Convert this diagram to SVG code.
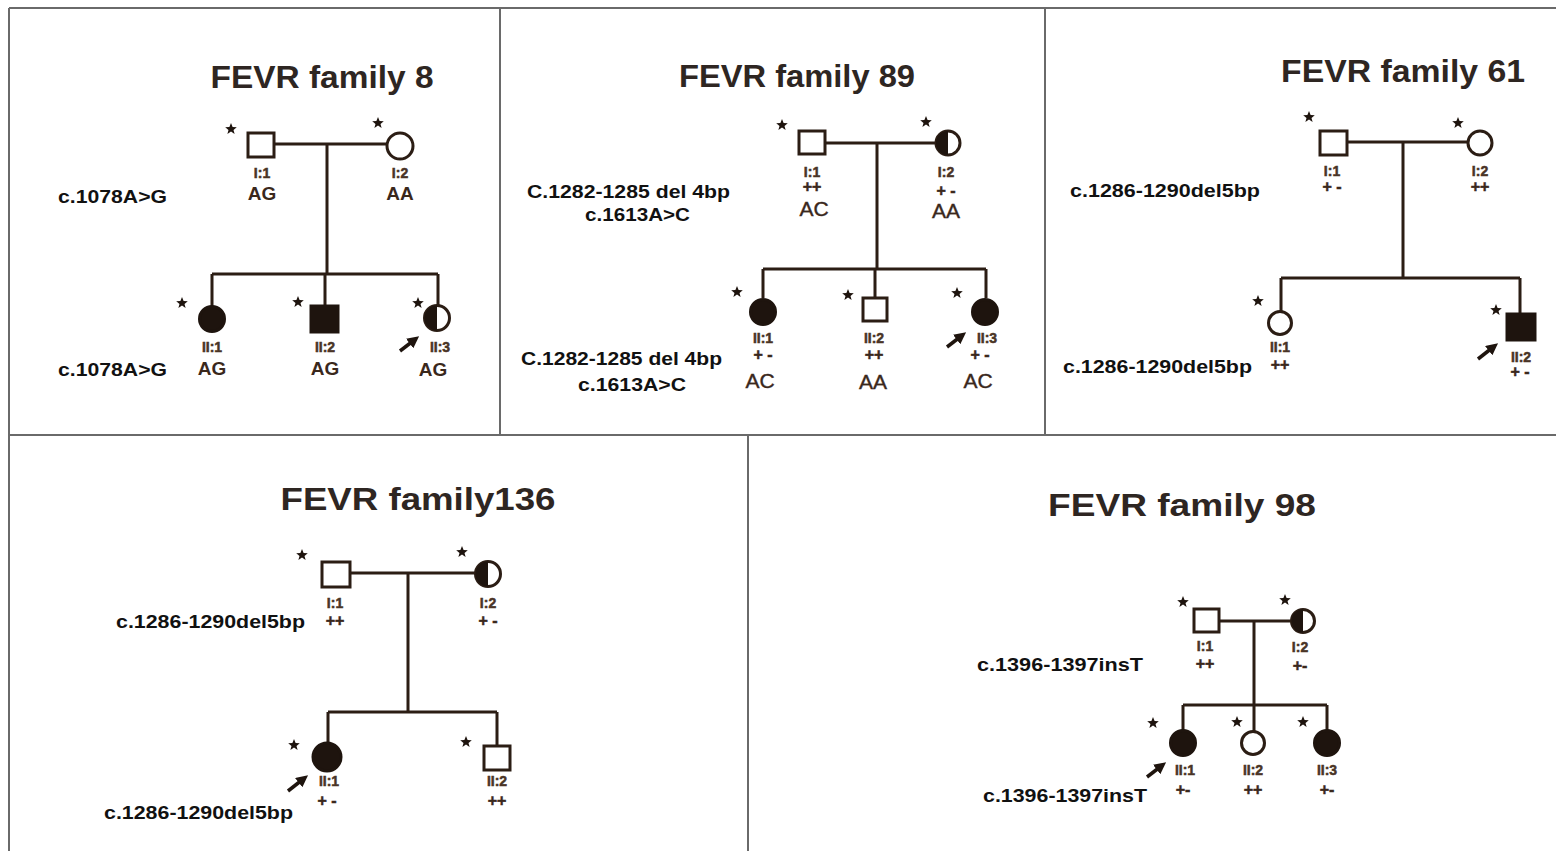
<svg xmlns="http://www.w3.org/2000/svg" xmlns:xlink="http://www.w3.org/1999/xlink" width="1556" height="851" viewBox="0 0 1556 851">
<style>
.frame{stroke:#6a6a6a;stroke-width:2;fill:none}
.ln{stroke:#2b1d14;stroke-width:3;fill:none}
.open{fill:#fff;stroke:#2b1d14;stroke-width:3}
.fill{fill:#1e140e;stroke:#1e140e;stroke-width:3}
.half{fill:#1e140e}
.title{font-family:"Liberation Sans",Arial,sans-serif;font-weight:bold;font-size:31px;fill:#2e2622;text-anchor:middle}
.mut{font-family:"Liberation Sans",Arial,sans-serif;font-weight:bold;font-size:19px;fill:#111}
.id{font-family:"Liberation Sans",Arial,sans-serif;font-weight:bold;font-size:14px;fill:#4a3426;text-anchor:middle;stroke:#4a3426;stroke-width:0.5}
.pm{font-family:"Liberation Sans",Arial,sans-serif;font-weight:bold;font-size:16px;fill:#3a281c;text-anchor:middle;stroke:#3a281c;stroke-width:0.5}
.gt{font-family:"Liberation Sans",Arial,sans-serif;font-weight:bold;font-size:19px;fill:#3a281c;text-anchor:middle}
.gt2{font-family:"Liberation Sans",Arial,sans-serif;font-size:21px;fill:#3a281c;text-anchor:middle;stroke:#3a281c;stroke-width:0.4}
.arr{stroke:#1e140e;stroke-width:3.5;fill:none;marker-end:url(#ah)}
</style>
<defs>
<polygon id="star" points="0,-6 1.6,-2 5.8,-1.8 2.5,1 3.6,5 0,2.6 -3.6,5 -2.5,1 -5.8,-1.8 -1.6,-2" fill="#1e140e"/>
<marker id="ah" markerWidth="3.4" markerHeight="3.4" refX="1.2" refY="1.7" orient="auto" markerUnits="strokeWidth">
<path d="M0,0 L3.4,1.7 L0,3.4 z" fill="#1e140e"/>
</marker>
</defs>
<rect width="1556" height="851" fill="#fff"/>
<g id="frame">
<line class="frame" x1="9" y1="8" x2="1556" y2="8"/>
<line class="frame" x1="9" y1="8" x2="9" y2="851"/>
<line class="frame" x1="9" y1="435" x2="1556" y2="435"/>
<line class="frame" x1="500" y1="8" x2="500" y2="435"/>
<line class="frame" x1="1045" y1="8" x2="1045" y2="435"/>
<line class="frame" x1="748" y1="435" x2="748" y2="851"/>
</g>
<g id="titles">
<text class="title" x="322" y="88" textLength="223" lengthAdjust="spacingAndGlyphs">FEVR family 8</text>
<text class="title" x="797" y="87" textLength="236" lengthAdjust="spacingAndGlyphs">FEVR family 89</text>
<text class="title" x="1403" y="82" textLength="244" lengthAdjust="spacingAndGlyphs">FEVR family 61</text>
<text class="title" x="418" y="510" textLength="275" lengthAdjust="spacingAndGlyphs">FEVR family136</text>
<text class="title" x="1182" y="516" textLength="268" lengthAdjust="spacingAndGlyphs">FEVR family 98</text>
</g>
<g id="mutations">
<text class="mut" x="58" y="203" textLength="109" lengthAdjust="spacingAndGlyphs">c.1078A&gt;G</text>
<text class="mut" x="58" y="376" textLength="109" lengthAdjust="spacingAndGlyphs">c.1078A&gt;G</text>
<text class="mut" x="527" y="198" textLength="203" lengthAdjust="spacingAndGlyphs">C.1282-1285 del 4bp</text>
<text class="mut" x="585" y="221" textLength="105" lengthAdjust="spacingAndGlyphs">c.1613A&gt;C</text>
<text class="mut" x="521" y="365" textLength="201" lengthAdjust="spacingAndGlyphs">C.1282-1285 del 4bp</text>
<text class="mut" x="578" y="391" textLength="108" lengthAdjust="spacingAndGlyphs">c.1613A&gt;C</text>
<text class="mut" x="1070" y="197" textLength="190" lengthAdjust="spacingAndGlyphs">c.1286-1290del5bp</text>
<text class="mut" x="1063" y="373" textLength="189" lengthAdjust="spacingAndGlyphs">c.1286-1290del5bp</text>
<text class="mut" x="116" y="628" textLength="189" lengthAdjust="spacingAndGlyphs">c.1286-1290del5bp</text>
<text class="mut" x="104" y="819" textLength="189" lengthAdjust="spacingAndGlyphs">c.1286-1290del5bp</text>
<text class="mut" x="977" y="671" textLength="166" lengthAdjust="spacingAndGlyphs">c.1396-1397insT</text>
<text class="mut" x="983" y="802" textLength="164" lengthAdjust="spacingAndGlyphs">c.1396-1397insT</text>
</g>
<g id="connectors">
<path class="ln" d="M274,144 H387 M327,144 V274 M212,274 H438 M212,274 V307 M325,274 V305 M438,274 V305"/>
<path class="ln" d="M825,143 H936 M877,143 V269 M763,269 H986 M763,269 V298 M875,269 V298 M986,269 V298"/>
<path class="ln" d="M1347,142 H1467 M1403,142 V278 M1281,278 H1520 M1281,278 V311 M1520,278 V313"/>
<path class="ln" d="M350,573 H475 M408,573 V712 M328,712 H497 M328,712 V742 M497,712 V745"/>
<path class="ln" d="M1219,621 H1291 M1254,621 V705 M1183,705 H1327 M1183,705 V730 M1254,705 V731 M1327,705 V730"/>
</g>
<g id="f8-I1"><rect class="open" x="248" y="133" width="26" height="24"/><use href="#star" x="231" y="129"/><text class="id" x="262" y="178">I:1</text><text class="gt" x="262" y="200">AG</text></g>
<g id="f8-I2"><circle class="open" cx="400" cy="146" r="13"/><use href="#star" x="378" y="123"/><text class="id" x="400" y="178">I:2</text><text class="gt" x="400" y="200">AA</text></g>
<g id="f8-II1"><circle class="fill" cx="212" cy="319" r="12.5"/><use href="#star" x="182" y="303"/><text class="id" x="212" y="352">II:1</text><text class="gt" x="212" y="375">AG</text></g>
<g id="f8-II2"><rect class="fill" x="311" y="306" width="27" height="26"/><use href="#star" x="298" y="302"/><text class="id" x="325" y="352">II:2</text><text class="gt" x="325" y="375">AG</text></g>
<g id="f8-II3"><circle class="open" cx="437" cy="318" r="12.5"/><path class="half" d="M437,305.5 A12.5,12.5 0 0 0 437,330.5 Z"/><use href="#star" x="418" y="303"/><path class="arr" d="M400,351 L413,341"/><text class="id" x="440" y="352">II:3</text><text class="gt" x="433" y="376">AG</text></g>
<g id="f89-I1"><rect class="open" x="799" y="131" width="26" height="23"/><use href="#star" x="782" y="125"/><text class="id" x="812" y="177">I:1</text><text class="pm" x="812" y="192">++</text><text class="gt2" x="814" y="216">AC</text></g>
<g id="f89-I2"><circle class="open" cx="948" cy="143" r="12"/><path class="half" d="M948,131 A12,12 0 0 0 948,155 Z"/><use href="#star" x="926" y="122"/><text class="id" x="946" y="177">I:2</text><text class="pm" x="946" y="196">+ -</text><text class="gt2" x="946" y="218">AA</text></g>
<g id="f89-II1"><circle class="fill" cx="763" cy="312" r="12.5"/><use href="#star" x="737" y="292"/><text class="id" x="763" y="343">II:1</text><text class="pm" x="763" y="360">+ -</text><text class="gt2" x="760" y="388">AC</text></g>
<g id="f89-II2"><rect class="open" x="863" y="298" width="24" height="23"/><use href="#star" x="848" y="295"/><text class="id" x="874" y="343">II:2</text><text class="pm" x="874" y="360">++</text><text class="gt2" x="873" y="389">AA</text></g>
<g id="f89-II3"><circle class="fill" cx="985" cy="312" r="12.5"/><use href="#star" x="957" y="293"/><path class="arr" d="M947,347 L960,337"/><text class="id" x="987" y="343">II:3</text><text class="pm" x="980" y="360">+ -</text><text class="gt2" x="978" y="388">AC</text></g>
<g id="f61-I1"><rect class="open" x="1320" y="131" width="27" height="24"/><use href="#star" x="1309" y="117"/><text class="id" x="1332" y="176">I:1</text><text class="pm" x="1332" y="192">+ -</text></g>
<g id="f61-I2"><circle class="open" cx="1480" cy="143" r="12"/><use href="#star" x="1458" y="123"/><text class="id" x="1480" y="176">I:2</text><text class="pm" x="1480" y="192">++</text></g>
<g id="f61-II1"><circle class="open" cx="1280" cy="323" r="11.5"/><use href="#star" x="1258" y="301"/><text class="id" x="1280" y="352">II:1</text><text class="pm" x="1280" y="370">++</text></g>
<g id="f61-II2"><rect class="fill" x="1507" y="314" width="28" height="26"/><use href="#star" x="1496" y="310"/><path class="arr" d="M1478,359 L1492,348"/><text class="id" x="1521" y="362">II:2</text><text class="pm" x="1520" y="377">+ -</text></g>
<g id="f136-I1"><rect class="open" x="322" y="562" width="28" height="25"/><use href="#star" x="302" y="555"/><text class="id" x="335" y="608">I:1</text><text class="pm" x="335" y="626">++</text></g>
<g id="f136-I2"><circle class="open" cx="488" cy="574" r="12.5"/><path class="half" d="M488,561.5 A12.5,12.5 0 0 0 488,586.5 Z"/><use href="#star" x="462" y="552"/><text class="id" x="488" y="608">I:2</text><text class="pm" x="488" y="626">+ -</text></g>
<g id="f136-II1"><circle class="fill" cx="327" cy="757" r="14"/><use href="#star" x="294" y="745"/><path class="arr" d="M288,791 L302,780"/><text class="id" x="329" y="786">II:1</text><text class="pm" x="327" y="806">+ -</text></g>
<g id="f136-II2"><rect class="open" x="484" y="746" width="26" height="24"/><use href="#star" x="466" y="742"/><text class="id" x="497" y="786">II:2</text><text class="pm" x="497" y="806">++</text></g>
<g id="f98-I1"><rect class="open" x="1194" y="609" width="25" height="23"/><use href="#star" x="1183" y="602"/><text class="id" x="1205" y="651">I:1</text><text class="pm" x="1205" y="669">++</text></g>
<g id="f98-I2"><circle class="open" cx="1303" cy="621" r="11.5"/><path class="half" d="M1303,609.5 A11.5,11.5 0 0 0 1303,632.5 Z"/><use href="#star" x="1285" y="600"/><text class="id" x="1300" y="652">I:2</text><text class="pm" x="1300" y="671">+-</text></g>
<g id="f98-II1"><circle class="fill" cx="1183" cy="743" r="12.5"/><use href="#star" x="1153" y="723"/><path class="arr" d="M1147,777 L1160,767"/><text class="id" x="1185" y="775">II:1</text><text class="pm" x="1183" y="795">+-</text></g>
<g id="f98-II2"><circle class="open" cx="1253" cy="743" r="11.5"/><use href="#star" x="1237" y="722"/><text class="id" x="1253" y="775">II:2</text><text class="pm" x="1253" y="795">++</text></g>
<g id="f98-II3"><circle class="fill" cx="1327" cy="743" r="12.5"/><use href="#star" x="1303" y="722"/><text class="id" x="1327" y="775">II:3</text><text class="pm" x="1327" y="795">+-</text></g>
</svg>
